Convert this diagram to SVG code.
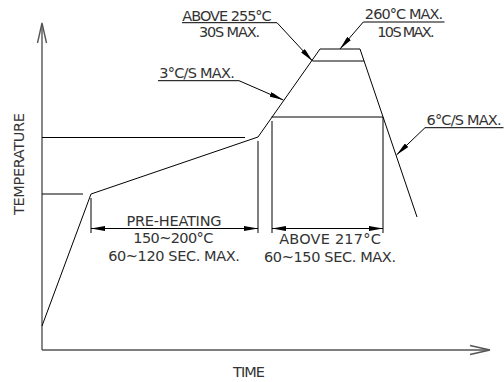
<svg xmlns="http://www.w3.org/2000/svg" width="504" height="382" viewBox="0 0 504 382">
<defs>
<style>
.ln{fill:none;stroke:#000;stroke-width:1}
.ax{fill:none;stroke:#555;stroke-width:1.4}
.t{font-family:"DejaVu Sans",sans-serif;font-size:14.5px;fill:#333;text-anchor:middle}
.ld{fill:none;stroke:#000;stroke-width:1;marker-end:url(#ah)}
.dm{fill:none;stroke:#000;stroke-width:1;marker-start:url(#ah);marker-end:url(#ah)}
</style>
<marker id="ah" viewBox="0 0 14 5" refX="14" refY="2.5" markerWidth="14" markerHeight="5" markerUnits="userSpaceOnUse" orient="auto-start-reverse">
<path d="M0,0 L14,2.5 L0,5 z" fill="#000"/>
</marker>
</defs>
<rect width="504" height="382" fill="#fff"/>
<g id="axes">
<line class="ax" x1="42" y1="350" x2="42" y2="24"/>
<polyline class="ax" points="37.5,43 42,23 46.5,43"/>
<line class="ax" x1="42" y1="350" x2="489" y2="350"/>
<polyline class="ax" points="470,345.5 490,350 470,354.5"/>
<text class="t" x="249" y="377" textLength="32">TIME</text>
<text class="t" transform="translate(24,164) rotate(-90)" x="0" y="0" textLength="102">TEMPERATURE</text>
</g>
<g id="profile">
<polyline class="ln" points="42,326 91,194 258,137 320,49 360,49 417,217"/>
<line class="ln" x1="312.5" y1="61" x2="364" y2="61"/>
<line class="ln" x1="271.5" y1="117" x2="383" y2="117"/>
<line class="ln" x1="42" y1="194" x2="83" y2="194"/>
<line class="ln" x1="42" y1="137.5" x2="245" y2="137.5"/>
</g>
<g id="connectors">
<line class="ln" x1="91" y1="198" x2="91" y2="233"/>
<line class="ln" x1="258" y1="141" x2="258" y2="233"/>
<line class="ln" x1="272" y1="121" x2="272" y2="233"/>
<line class="ln" x1="383" y1="117" x2="383" y2="233"/>
<line class="dm" x1="91" y1="228.5" x2="258" y2="228.5"/>
<line class="dm" x1="272" y1="228.5" x2="383" y2="228.5"/>
<polyline class="ld" points="182,22.7 277,22.7 312.5,61"/>
<polyline class="ld" points="158,80.7 239,80.7 283.3,100"/>
<polyline class="ld" points="444.5,22 363.3,22 340,49"/>
<polyline class="ld" points="503.5,127.7 425,127.7 396.5,155"/>
</g>
<g id="label-above255">
<text class="t" x="227" y="20.5" textLength="89.4">ABOVE 255°C</text>
<text class="t" x="229.5" y="36.7" textLength="61">30S MAX.</text>
</g>
<g id="label-3cs">
<text class="t" x="197" y="78.3" textLength="75.7">3°C/S MAX.</text>
</g>
<g id="label-260">
<text class="t" x="404" y="19.3" textLength="78.3">260°C MAX.</text>
<text class="t" x="406" y="36.7" textLength="57.3">10S MAX.</text>
</g>
<g id="label-6cs">
<text class="t" x="464" y="125" textLength="75">6°C/S MAX.</text>
</g>
<g id="label-preheat">
<text class="t" x="174" y="226" textLength="95">PRE-HEATING</text>
<text class="t" x="173.3" y="243" textLength="80">150~200°C</text>
<text class="t" x="174" y="261" textLength="131.7">60~120 SEC. MAX.</text>
</g>
<g id="label-above217">
<text class="t" x="330" y="244" textLength="101.5">ABOVE 217°C</text>
<text class="t" x="330" y="262" textLength="132">60~150 SEC. MAX.</text>
</g>
</svg>
